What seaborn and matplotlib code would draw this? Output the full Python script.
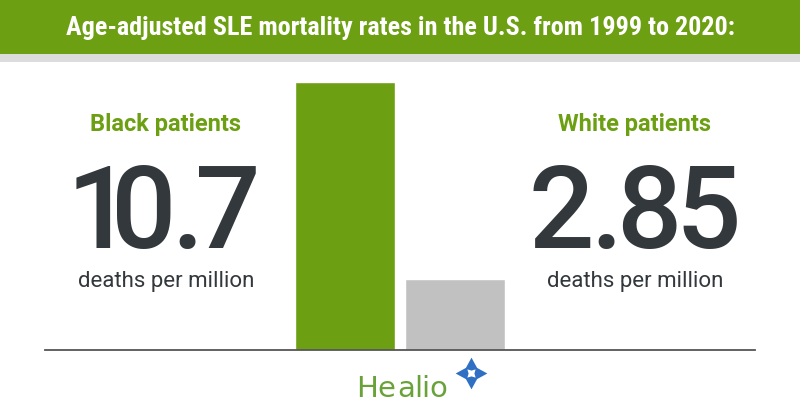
import pandas as pd
import seaborn as sns
import matplotlib.pyplot as plt
from matplotlib.patches import Rectangle
from matplotlib.textpath import TextPath
from matplotlib.font_manager import FontProperties

# data
groups = ['Black patients', 'White patients']
rates = [10.7, 2.85]
rate_labels = ['10.7', '2.85']
title = 'Age-adjusted SLE mortality rates in the U.S. from 1999 to 2020:'

green = '#6c9f12'
grey_bar = '#c1c1c1'
dark = '#33383c'
W, H = 800, 420

sns.set_theme(style='white')
plt.rcParams['font.family'] = ['Roboto', 'DejaVu Sans']

fig = plt.figure(figsize=(8, 4.2), dpi=100)


def tight_text(xc, base, s, gaps, family, fontsize, weight='normal', **kw):
    # lay characters out by their ink boxes with given gaps (px), centred on xc
    prop = FontProperties(family=family, weight=weight, size=fontsize)
    r = fig.canvas.get_renderer()
    items = []
    for ch in s:
        t = fig.text(0, 1 - base / H, ch, ha='left', va='baseline', fontproperties=prop, **kw)
        ext = TextPath((0, 0), ch, size=fontsize, prop=prop).get_extents()
        ink_w = ext.width * 100 / 72
        w = t.get_window_extent(r).width
        # box may be ink based or start at the pen origin
        off = 0 if abs(w - ink_w) < 1 else max(ext.x0 * 100 / 72, 0)
        items.append((t, ink_w, off))
    x = xc - (sum(i[1] for i in items) + sum(gaps)) / 2
    for i, (t, ink_w, off) in enumerate(items):
        t.set_x((x - off) / W)
        x += ink_w + (gaps[i] if i < len(gaps) else 0)


# header band + thin grey strip under it
fig.patches.append(Rectangle((0, 1 - 54 / H), 1, 54 / H, transform=fig.transFigure,
                             facecolor=green, edgecolor='none', zorder=0))
fig.patches.append(Rectangle((0, 1 - 62 / H), 1, 8 / H, transform=fig.transFigure,
                             facecolor='#dcdcdc', edgecolor='none', zorder=0))
fig.text(0.5, 1 - 28 / H, title, ha='center', va='center', color='white',
         fontsize=18.8, fontweight='bold',
         family=['Liberation Sans Narrow', 'Roboto Condensed', 'Roboto', 'DejaVu Sans'])

# bar chart
df = pd.DataFrame({'group': groups, 'rate': rates})
ax = fig.add_axes([45 / W, 70 / H, 710 / W, 268 / H])
sns.barplot(data=df, x='group', y='rate', hue='group', palette=[green, grey_bar],
            width=0.909, legend=False, ax=ax, saturation=1)
ax.set_xlim(-2.727, 3.727)
ax.set_ylim(0, 10.7)
ax.set_xlabel('')
ax.set_ylabel('')
ax.set_xticks([])
ax.set_yticks([])
for s in ['top', 'left', 'right']:
    ax.spines[s].set_visible(False)
ax.spines['bottom'].set_color('#555555')
ax.spines['bottom'].set_linewidth(1.3)
ax.patch.set_alpha(0)

# side annotations
for xc, grp, lab, gaps in zip([166, 635], groups, rate_labels, [[7, 9, 4], [8, 8, 7]]):
    fig.text(xc / W, 1 - 131 / H, grp, ha='center', va='baseline', color=green,
             fontsize=17, fontweight='bold')
    tight_text(xc, 248, lab, gaps, 'Roboto', 83, weight='medium', color=dark)
    fig.text(xc / W, 1 - 287 / H, 'deaths per million', ha='center', va='baseline',
             color=dark, fontsize=16)

# logo
tight_text(402, 397, 'Healio', [4.5] * 5, 'DejaVu Sans', 21, color='#6aa23a')
lax = fig.add_axes([0, 0, 1, 1], zorder=5)
lax.set_xlim(0, W)
lax.set_ylim(H, 0)
lax.axis('off')
lax.scatter([471], [373], marker=(4, 1, 0), s=520, color='#2f6fc4', linewidths=0)
lax.scatter([471], [373], marker=(4, 1, 45), s=70, color='white', linewidths=0)

fig.savefig('out.png', dpi=100)
